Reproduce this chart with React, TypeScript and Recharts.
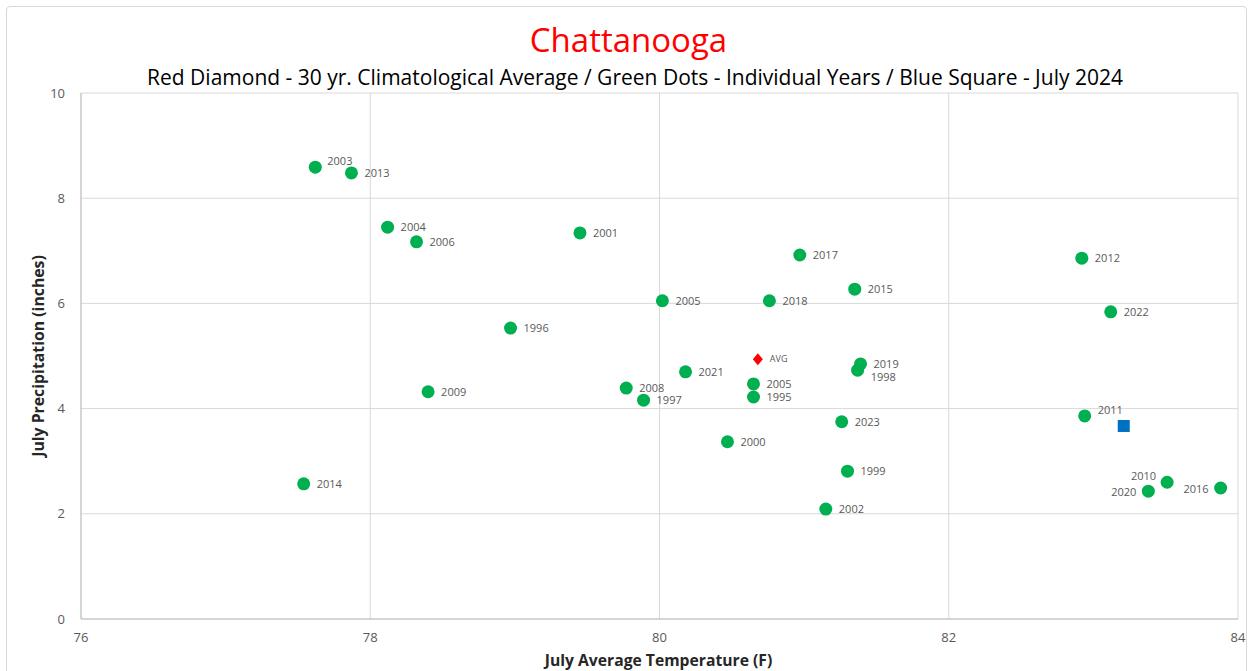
import React from 'react';
import { ScatterChart, Scatter, XAxis, YAxis, CartesianGrid } from 'recharts';

// individual years: July average temperature (F) and precipitation (inches)
const years = [
  '2003', '2013', '2004', '2006', '2001', '2017', '2012', '2015', '2005', '2018',
  '2022', '1996', '2019', '1998', '2021', '2005', '2008', '1995', '1997', '2009',
  '2011', '2023', '2000', '1999', '2014', '2010', '2020', '2016', '2002',
];
const temps = [
  77.62, 77.87, 78.12, 78.32, 79.45, 80.97, 82.92, 81.35, 80.02, 80.76,
  83.12, 78.97, 81.39, 81.37, 80.18, 80.65, 79.77, 80.65, 79.89, 78.40,
  82.94, 81.26, 80.47, 81.30, 77.54, 83.51, 83.38, 83.88, 81.15,
];
const precip = [
  8.59, 8.48, 7.45, 7.17, 7.34, 6.92, 6.86, 6.27, 6.05, 6.05,
  5.84, 5.53, 4.85, 4.73, 4.70, 4.47, 4.39, 4.22, 4.16, 4.32,
  3.86, 3.75, 3.37, 2.81, 2.57, 2.60, 2.43, 2.49, 2.09,
];

// 30 yr climatological average and July 2024
const avgTemp = 80.68;
const avgPrecip = 4.94;
const july2024Temp = 83.21;
const july2024Precip = 3.67;

const xTicks = [76, 78, 80, 82, 84];
const yTicks = [0, 2, 4, 6, 8, 10];

const yearData = years.map((year, i) => ({ year, temp: temps[i], precip: precip[i] }));
const avgData = [{ year: 'AVG', temp: avgTemp, precip: avgPrecip }];
const currentData = [{ year: '2024', temp: july2024Temp, precip: july2024Precip }];

const FONT = '"Open Sans", Calibri, sans-serif';
const GREY = '#595959';

// label nudges for crowded spots [dx, baseline dy, anchor]
const labelNudge: Record<string, [number, number, 'start' | 'end']> = {
  '2003': [12, -2, 'start'],
  '2011': [13, -2, 'start'],
  '1998': [13, 11, 'start'],
  '2010': [-11, -2, 'end'],
  '2020': [-12, 5, 'end'],
  '2016': [-12, 5, 'end'],
};

const GreenDot = (props: any) => {
  const { cx, cy, payload } = props;
  const [dx, dy, anchor] = labelNudge[payload.year] ?? [13, 4, 'start'];
  return (
    <g>
      <circle cx={cx} cy={cy} r={6.5} fill="#00b050" />
      <text x={cx + dx} y={cy + dy} textAnchor={anchor} fontSize={11} fill={GREY} fontFamily={FONT}>
        {payload.year}
      </text>
    </g>
  );
};

const RedDiamond = (props: any) => {
  const { cx, cy, payload } = props;
  return (
    <g>
      <polygon points={`${cx},${cy - 6} ${cx + 5},${cy} ${cx},${cy + 6} ${cx - 5},${cy}`} fill="#ff0000" />
      <text x={cx + 12} y={cy + 3} fontSize={9} fill={GREY} fontFamily={FONT}>
        {payload.year}
      </text>
    </g>
  );
};

const BlueSquare = (props: any) => {
  const { cx, cy } = props;
  return <rect x={cx - 6} y={cy - 6} width={12} height={12} fill="#0070c0" />;
};

export default function App() {
  return (
    <div style={{ position: 'absolute', left: 0, top: 0, width: 1251, height: 671, background: '#fff', fontFamily: FONT }}>
      <div
        style={{
          position: 'absolute', left: 6, top: 6, width: 1241, height: 670,
          border: '1px solid #d9d9d9', borderRadius: 4, boxSizing: 'border-box',
        }}
      />
      <div style={{ position: 'absolute', left: 0, width: 1257, top: 18, textAlign: 'center', color: '#ff0000', fontSize: 33, lineHeight: '44px' }}>
        Chattanooga
      </div>
      <div style={{ position: 'absolute', left: 0, width: 1270, top: 62, textAlign: 'center', color: '#000', fontSize: 21, lineHeight: '30px', whiteSpace: 'nowrap' }}>
        Red Diamond - 30 yr. Climatological Average / Green Dots - Individual Years / Blue Square - July 2024
      </div>
      <div style={{ position: 'absolute', left: 0, top: 0 }}>
        <ScatterChart width={1251} height={671} margin={{ top: 93, right: 13, bottom: 2, left: 21 }}>
          <CartesianGrid stroke="#d9d9d9" />
          <XAxis
            type="number"
            dataKey="temp"
            domain={[76, 84]}
            ticks={xTicks}
            height={50}
            tickLine={false}
            axisLine={{ stroke: '#bfbfbf' }}
            tick={{ fill: GREY, fontSize: 13, fontFamily: FONT }}
            tickMargin={8}
            label={{
              content: ({ viewBox }: any) => (
                <text x={viewBox.x + viewBox.width / 2 - 1} y={viewBox.y + 47} textAnchor="middle" fontSize={15.7} fontWeight="bold" fill="#262626" fontFamily={FONT}>
                  July Average Temperature (F)
                </text>
              ),
            }}
          />
          <YAxis
            type="number"
            dataKey="precip"
            domain={[0, 10]}
            ticks={yTicks}
            width={60}
            tickLine={false}
            axisLine={{ stroke: '#bfbfbf' }}
            tick={{ fill: GREY, fontSize: 13, fontFamily: FONT }}
            tickMargin={10}
            label={{
              content: ({ viewBox }: any) => {
                const x = 44;
                const y = viewBox.y + viewBox.height / 2;
                return (
                  <text x={x} y={y} transform={`rotate(-90, ${x}, ${y})`} textAnchor="middle" fontSize={15.8} fontWeight="bold" fill="#262626" fontFamily={FONT}>
                    July Precipitation (inches)
                  </text>
                );
              },
            }}
          />
          <Scatter data={yearData} shape={GreenDot} isAnimationActive={false} />
          <Scatter data={avgData} shape={RedDiamond} isAnimationActive={false} />
          <Scatter data={currentData} shape={BlueSquare} isAnimationActive={false} />
        </ScatterChart>
      </div>
    </div>
  );
}
